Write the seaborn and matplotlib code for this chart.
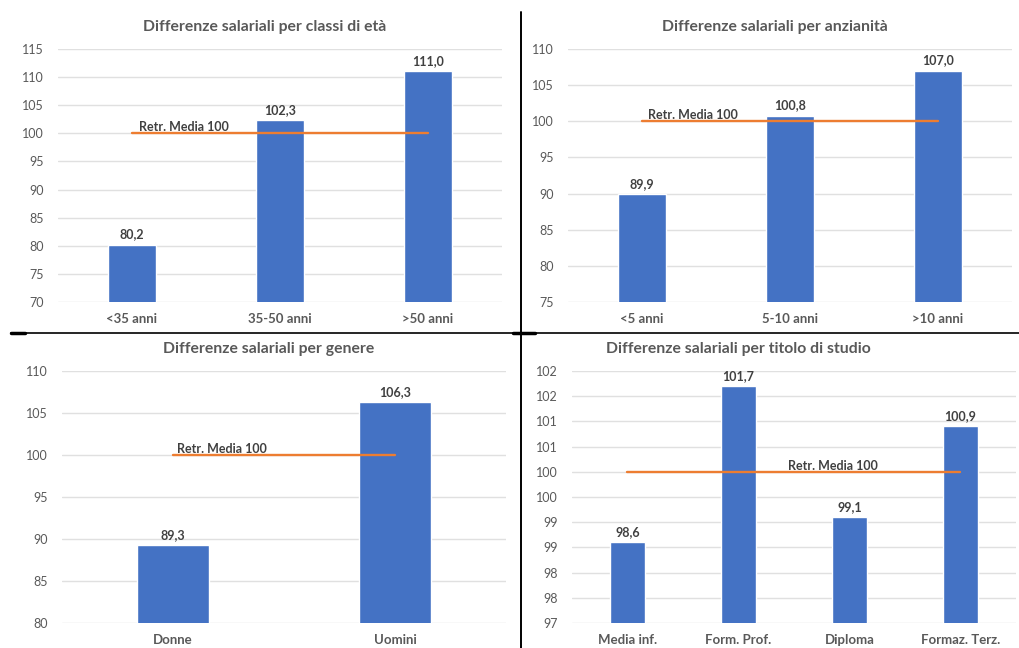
import numpy as np
import pandas as pd
import matplotlib
matplotlib.use("Agg")
import matplotlib.pyplot as plt
from matplotlib.lines import Line2D
from matplotlib.ticker import FuncFormatter, MultipleLocator
import seaborn as sns

# ---- Data
eta_cat = ["<35 anni", "35-50 anni", ">50 anni"]
eta_val = [80.2, 102.3, 111.0]

anz_cat = ["<5 anni", "5-10 anni", ">10 anni"]
anz_val = [89.9, 100.8, 107.0]

gen_cat = ["Donne", "Uomini"]
gen_val = [89.3, 106.3]

stu_cat = ["Media inf.", "Form. Prof.", "Diploma", "Formaz. Terz."]
stu_val = [98.6, 101.7, 99.1, 100.9]

REF_VALUE = 100
REF_LABEL = "Retr. Media 100"

# ---- Style
sns.set_theme(style="white")
plt.rcParams["font.family"] = ["Lato", "DejaVu Sans"]

BAR_COLOR = "#4472C4"
REF_COLOR = "#ED7D31"
GRID_COLOR = "#E0E0E0"
TICK_COLOR = "#595959"
LABEL_COLOR = "#404040"

W, H = 1020, 648
fig = plt.figure(figsize=(W / 100, H / 100), dpi=100)
fig.patch.set_facecolor("white")


def px_axes(x0, x1, y_top, y_bot):
    return fig.add_axes([x0 / W, 1 - y_bot / H, (x1 - x0) / W, (y_bot - y_top) / H])


# Excel-style rounding (half up) for the 0.5-step axis
def half_up(v, pos):
    return f"{int(np.floor(v + 0.5))}"


def draw_panel(ax, cats, vals, ylim, step, title, title_xy, ref_x, fmt=None):
    df = pd.DataFrame({"cat": cats, "val": vals})
    sns.barplot(data=df, x="cat", y="val", color=BAR_COLOR, width=0.32,
                saturation=1, ax=ax, zorder=2)
    ax.plot(cats, [REF_VALUE] * len(cats), color=REF_COLOR, lw=1.7, zorder=3)
    ax.text(ref_x, REF_VALUE, REF_LABEL, ha="left", va="bottom",
            fontsize=9, fontweight="bold", color=LABEL_COLOR, zorder=4)

    labels = [f"{v:.1f}".replace(".", ",") for v in vals]
    ax.bar_label(ax.containers[0], labels=labels, padding=3,
                 fontsize=9, fontweight="bold", color=LABEL_COLOR)

    ax.set_ylim(*ylim)
    ax.set_xlim(-0.5, len(cats) - 0.5)
    ax.yaxis.set_major_locator(MultipleLocator(step))
    if fmt is not None:
        ax.yaxis.set_major_formatter(FuncFormatter(fmt))
    ax.yaxis.grid(True, color=GRID_COLOR, lw=1)
    ax.set_axisbelow(True)
    for s in ax.spines.values():
        s.set_visible(False)
    ax.set_xlabel("")
    ax.set_ylabel("")
    ax.tick_params(axis="y", length=0, pad=10, labelsize=9, labelcolor=TICK_COLOR)
    ax.tick_params(axis="x", length=0, pad=8, labelsize=9.5, labelcolor=TICK_COLOR)
    for t in ax.get_xticklabels():
        t.set_fontweight("bold")
    fig.text(title_xy[0] / W, 1 - title_xy[1] / H, title, ha="center", va="center",
             fontsize=11.3, fontweight="bold", color=TICK_COLOR)


ax1 = px_axes(58, 502, 49, 302)
draw_panel(ax1, eta_cat, eta_val, (70, 115), 5,
           "Differenze salariali per classi di età", (265, 27), 0.05)

ax2 = px_axes(568, 1012, 49, 302)
draw_panel(ax2, anz_cat, anz_val, (75, 110), 5,
           "Differenze salariali per anzianità", (775, 27), 0.04)

ax3 = px_axes(62, 506, 371, 623)
draw_panel(ax3, gen_cat, gen_val, (80, 110), 5,
           "Differenze salariali per genere", (269, 349), 0.02)

ax4 = px_axes(572, 1016, 371, 623)
draw_panel(ax4, stu_cat, stu_val, (97, 102), 0.5,
           "Differenze salariali per titolo di studio", (738, 349), 1.45, fmt=half_up)

# ---- Separator lines between the four charts
fig.add_artist(Line2D([521 / W, 521 / W], [1 - 12 / H, 0], color="black", lw=1.4))
fig.add_artist(Line2D([11 / W, 1], [1 - 332.5 / H, 1 - 332.5 / H], color="black", lw=1.2))
fig.add_artist(Line2D([11 / W, 25 / W], [1 - 332.5 / H, 1 - 332.5 / H], color="black", lw=2.5))
fig.add_artist(Line2D([513 / W, 535 / W], [1 - 332.5 / H, 1 - 332.5 / H], color="black", lw=2.5))

fig.savefig("out.png", dpi=100, facecolor="white")
